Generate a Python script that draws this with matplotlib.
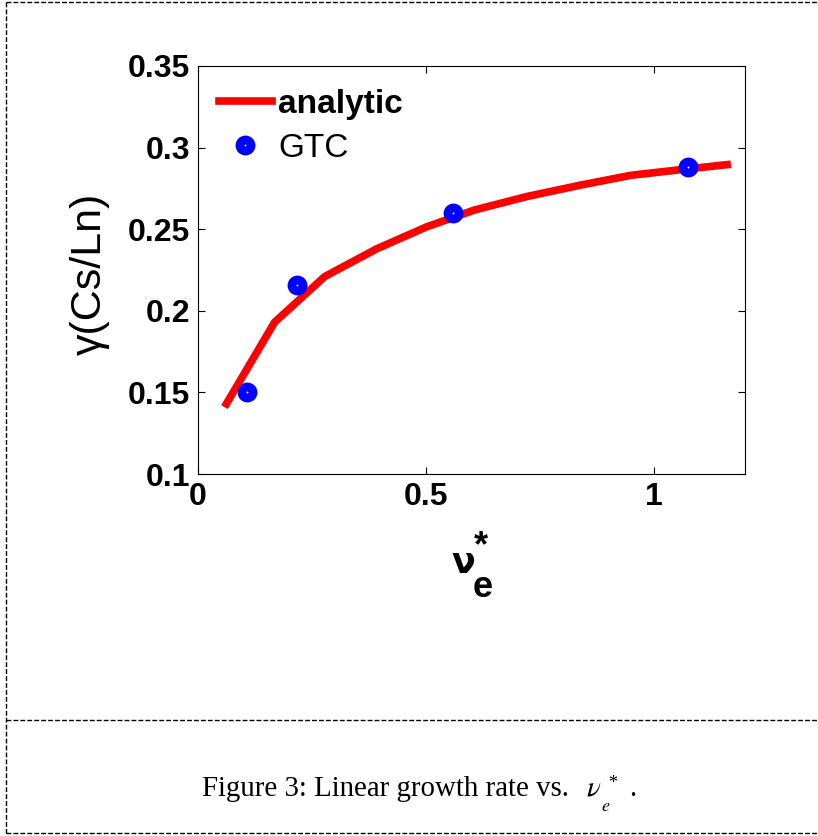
import matplotlib
matplotlib.use("Agg")
import matplotlib.pyplot as plt
from matplotlib.lines import Line2D

# data
nu_analytic = [0.058, 0.168, 0.278, 0.392, 0.502, 0.607, 0.721, 0.839, 0.949, 1.059, 1.169]
gamma_analytic = [0.141, 0.193, 0.221, 0.238, 0.2515, 0.2618, 0.270, 0.277, 0.283, 0.2865, 0.2898]
nu_gtc = [0.107, 0.218, 0.559, 1.076]
gamma_gtc = [0.150, 0.216, 0.2597, 0.288]
xticks = [0, 0.5, 1]
xticklabels = ["0", "0.5", "1"]
yticks = [0.1, 0.15, 0.2, 0.25, 0.3, 0.35]
yticklabels = ["0.1", "0.15", "0.2", "0.25", "0.3", "0.35"]

plt.rcParams['font.family'] = ['Liberation Sans', 'DejaVu Sans']

W, H = 818, 836
fig = plt.figure(figsize=(W/100, H/100), dpi=100)
ax = fig.add_axes([198/W, 1-474/H, (745-198)/W, (474-66)/H])

MS, MEW = 8.0, 6.3
ax.plot(nu_analytic, gamma_analytic, color='#ff0000', lw=5.5, solid_capstyle='butt', zorder=2)
ax.plot(nu_gtc, gamma_gtc, ls='none', marker='o', ms=MS, mfc='white', mec='#0000ff', mew=MEW, zorder=3)

ax.set_xlim(0, 1.2)
ax.set_ylim(0.1, 0.35)
ax.set_xticks(xticks)
ax.set_xticklabels(xticklabels)
ax.set_yticks(yticks)
ax.set_yticklabels(yticklabels)
ax.tick_params(direction='in', length=5, width=0.8, labelsize=23, top=True, right=True, pad=5.5)
for lab in ax.get_xticklabels() + ax.get_yticklabels():
    lab.set_fontweight('bold')
for s in ax.spines.values():
    s.set_linewidth(0.8)

def px(x, y):
    return x / W, 1 - y / H

# y label
fig.text(*px(90, 274), 'γ(Cs/Ln)', rotation=90, ha='center', va='center', fontsize=31)

# x label pieces
fig.text(*px(451, 573), 'ν', ha='left', va='baseline', fontsize=25,
         family='DejaVu Sans', fontweight='bold')
fig.text(*px(473, 597), 'e', ha='left', va='baseline', fontsize=26, fontweight='bold')
fig.text(*px(474, 556), '*', ha='left', va='baseline', fontsize=26, fontweight='bold')

# legend
h1 = Line2D([], [], color='#ff0000', lw=5.5)
h2 = Line2D([], [], ls='none', marker='o', ms=MS, mfc='white', mec='#0000ff', mew=MEW)
leg = ax.legend([h1, h2], ['analytic', 'GTC'], loc='upper left', frameon=False,
                fontsize=24, handlelength=1.6, handletextpad=0.18, borderaxespad=0,
                borderpad=0, labelspacing=0.38, bbox_to_anchor=(20.7/547, 1 - 23/408))
leg.get_texts()[0].set_fontweight('bold')

# frame lines of the page
def dline(x0, y0, x1, y1):
    fig.add_artist(Line2D([x0/W, x1/W], [1-y0/H, 1-y1/H], color='black', lw=1,
                          ls=(0, (3.5, 1.5))))
dline(6, 2, 818, 2)
dline(6, 2, 6, 834)
dline(6, 720, 818, 720)
dline(6, 833, 818, 833)

# caption
fig.text(*px(202, 796), 'Figure 3: Linear growth rate vs.', ha='left', va='baseline',
         fontsize=20.8, family='Liberation Serif')
fig.text(*px(586, 796), r'$\nu$', ha='left', va='baseline', fontsize=21, math_fontfamily='stix')
fig.text(*px(601, 811), r'$e$', ha='left', va='baseline', fontsize=13, math_fontfamily='stix')
fig.text(*px(608, 788), '*', ha='left', va='baseline', fontsize=13, family='Liberation Serif')
fig.text(*px(629, 796), '.', ha='left', va='baseline', fontsize=20.8, family='Liberation Serif')

fig.savefig('out.png', dpi=100)
